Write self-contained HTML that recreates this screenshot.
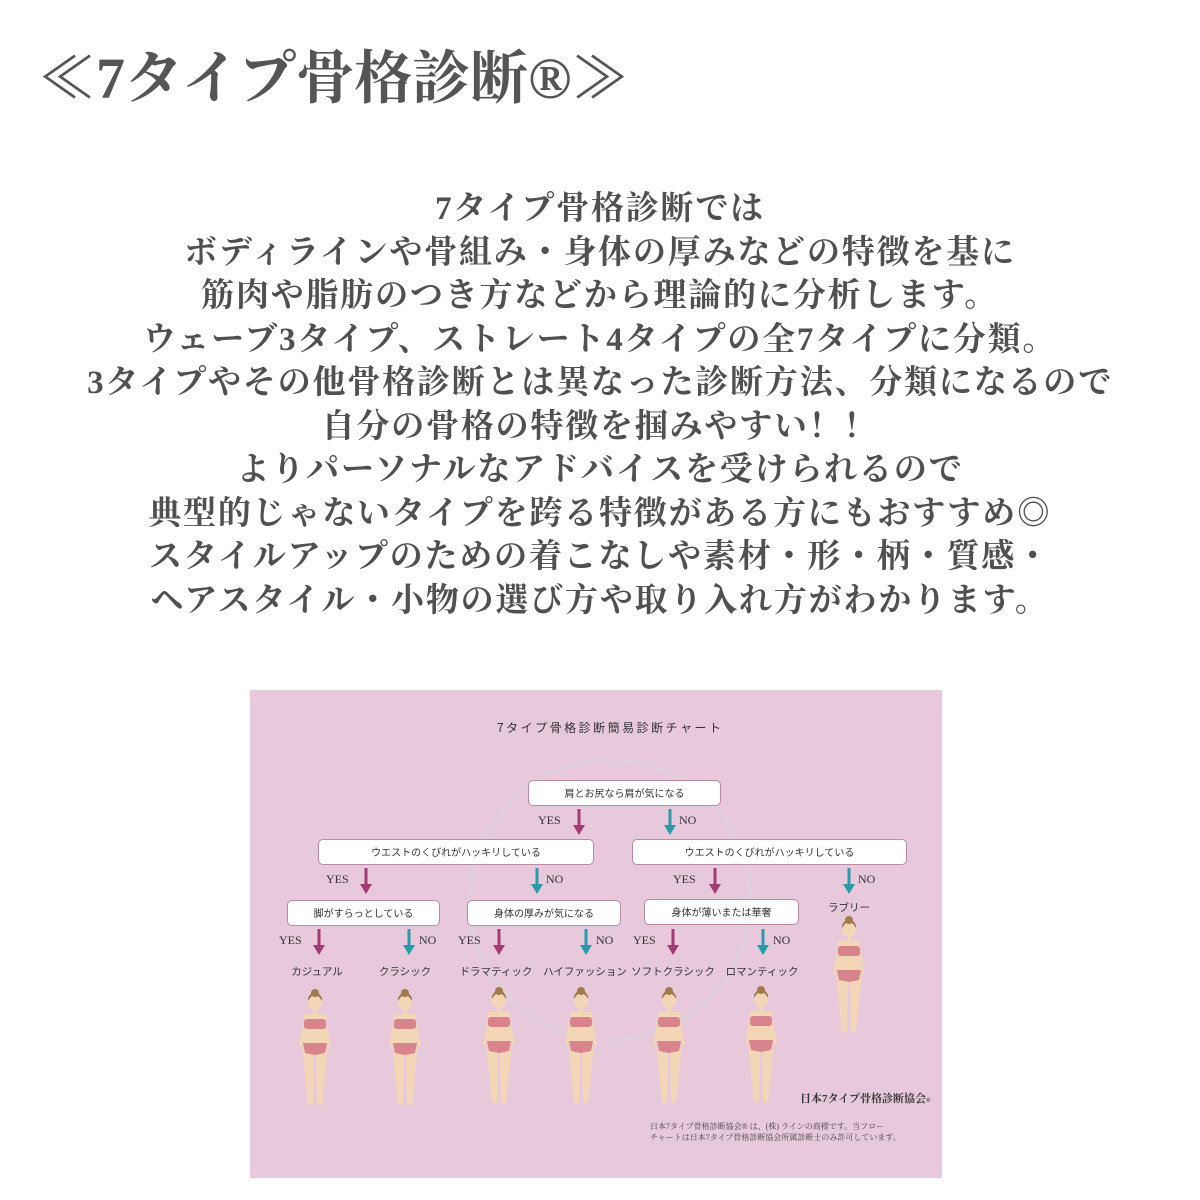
<!DOCTYPE html>
<html><head><meta charset="utf-8"><style>
body{margin:0;width:1200px;height:1200px;background:#fff;position:relative;overflow:hidden;font-family:"Liberation Serif","Noto Serif CJK SC",serif}
.t{position:absolute;white-space:nowrap}
#h{left:38px;top:31px;font-size:58px;font-weight:bold;color:#555;letter-spacing:0px}
#p{position:absolute;left:0;top:188px;width:1200px;text-align:center;font-size:33px;font-weight:bold;color:#505050;line-height:43.5px;letter-spacing:1.8px}
#c{position:absolute;left:250px;top:690px;width:692px;height:488px;background:#e8c9db}
.b{position:absolute;background:#fff;border:1px solid #b98ca5;border-radius:5px;font-family:"Noto Sans CJK JP",sans-serif;font-size:10px;color:#333;text-align:center;line-height:24px;box-sizing:border-box}
.s{font-family:"Noto Sans CJK JP",sans-serif;font-size:10.5px;color:#333;position:absolute;white-space:nowrap;transform:translateX(-50%)}
.y{position:absolute;font-size:12px;color:#333;font-family:"Liberation Serif",serif}
</style></head><body>
<div class="t" id="h">≪7タイプ骨格診断®≫</div>
<div id="p">7タイプ骨格診断では<br>ボディラインや骨組み・身体の厚みなどの特徴を基に<br>筋肉や脂肪のつき方などから理論的に分析します。<br>ウェーブ3タイプ、ストレート4タイプの全7タイプに分類。<br>3タイプやその他骨格診断とは異なった診断方法、分類になるので<br>自分の骨格の特徴を掴みやすい！！<br>よりパーソナルなアドバイスを受けられるので<br>典型的じゃないタイプを跨る特徴がある方にもおすすめ◎<br>スタイルアップのための着こなしや素材・形・柄・質感・<br>ヘアスタイル・小物の選び方や取り入れ方がわかります。</div>
<div id="c"></div>
<svg style="position:absolute;left:0;top:0" width="1200" height="1200">
<circle cx="610" cy="900" r="140" fill="none" stroke="#dcd3db" stroke-width="3" opacity=".8"/>
<defs>
<g id="fig"><circle cx="0" cy="8" r="7" fill="#f3d6b5"/><path d="M-7,6 Q0,-6 7,6 L7,3 Q0,-10 -7,3Z" fill="#a07a4a"/><circle cx="0" cy="-2" r="4" fill="#a07a4a"/>
<rect x="-2" y="14" width="4" height="5" fill="#f3d6b5"/><path d="M-11,19 L11,19 L12,60 L-12,60Z" fill="#f3d6b5"/>
<path d="M-10,20 L-16,52 L-13,52 L-7,25Z M10,20 L16,52 L13,52 L7,25Z" fill="#f3d6b5"/>
<path d="M-12,60 L-1,60 L-2,110 L-7,110Z M1,60 L12,60 L7,110 L2,110Z" fill="#f3d6b5"/>
<rect x="-11" y="24" width="22" height="10" rx="3" fill="#d9838c"/><path d="M-12,48 L12,48 L10,58 L0,60 L-10,58Z" fill="#d9838c"/></g>
<g id="ya"><rect x="-1.5" y="0" width="3" height="18" fill="#a23a73"/><path d="M-6,16 L6,16 L0,26Z" fill="#a23a73"/></g>
<g id="na"><rect x="-1.5" y="0" width="3" height="18" fill="#2a9aa8"/><path d="M-6,16 L6,16 L0,26Z" fill="#2a9aa8"/></g>
</defs>
<use href="#ya" x="579" y="809"/><use href="#na" x="670" y="809"/>
<use href="#ya" x="366" y="868"/><use href="#na" x="537" y="868"/><use href="#ya" x="715" y="868"/><use href="#na" x="849" y="868"/>
<use href="#ya" x="319" y="929"/><use href="#na" x="409" y="929"/><use href="#ya" x="499" y="929"/><use href="#na" x="586" y="929"/><use href="#ya" x="673" y="929"/><use href="#na" x="763" y="929"/>
<use href="#fig" x="315" y="995"/><use href="#fig" x="405" y="995"/><use href="#fig" x="499" y="993"/><use href="#fig" x="581" y="993"/><use href="#fig" x="669" y="993"/><use href="#fig" x="761" y="992"/><use href="#fig" x="849" y="922"/>
</svg>
<div class="t" style="left:497px;top:719px;font-family:'Noto Sans CJK JP',sans-serif;font-size:12px;letter-spacing:2.5px;color:#333">7タイプ骨格診断簡易診断チャート</div>
<div class="b" style="left:528px;top:780px;width:193px;height:26px">肩とお尻なら肩が気になる</div>
<div class="b" style="left:318px;top:839px;width:276px;height:26px">ウエストのくびれがハッキリしている</div>
<div class="b" style="left:632px;top:839px;width:275px;height:26px">ウエストのくびれがハッキリしている</div>
<div class="b" style="left:287px;top:900px;width:153px;height:26px">脚がすらっとしている</div>
<div class="b" style="left:467px;top:900px;width:154px;height:26px">身体の厚みが気になる</div>
<div class="b" style="left:644px;top:899px;width:155px;height:26px">身体が薄いまたは華奢</div>
<div class="y" style="left:538px;top:813px">YES</div><div class="y" style="left:679px;top:813px">NO</div>
<div class="y" style="left:326px;top:872px">YES</div><div class="y" style="left:546px;top:872px">NO</div><div class="y" style="left:673px;top:872px">YES</div><div class="y" style="left:858px;top:872px">NO</div>
<div class="y" style="left:279px;top:933px">YES</div><div class="y" style="left:419px;top:933px">NO</div><div class="y" style="left:458px;top:933px">YES</div><div class="y" style="left:596px;top:933px">NO</div><div class="y" style="left:633px;top:933px">YES</div><div class="y" style="left:773px;top:933px">NO</div>
<div class="s" style="left:317px;top:964px">カジュアル</div><div class="s" style="left:405px;top:964px">クラシック</div><div class="s" style="left:496px;top:964px">ドラマティック</div><div class="s" style="left:585px;top:964px">ハイファッション</div><div class="s" style="left:673px;top:964px">ソフトクラシック</div><div class="s" style="left:762px;top:964px">ロマンティック</div><div class="s" style="left:849px;top:900px">ラブリー</div>
<div class="t" style="left:800px;top:1090px;font-size:11px;font-weight:bold;color:#333">日本7タイプ骨格診断協会<span style="font-size:6px">®</span></div>
<div class="t" style="left:650px;top:1121px;font-size:8px;color:#444;line-height:11px">日本7タイプ骨格診断協会® は、(株) ラインの商標です。当フロー<br>チャートは日本7タイプ骨格診断協会所属診断士のみ許可しています。</div>
</body></html>
